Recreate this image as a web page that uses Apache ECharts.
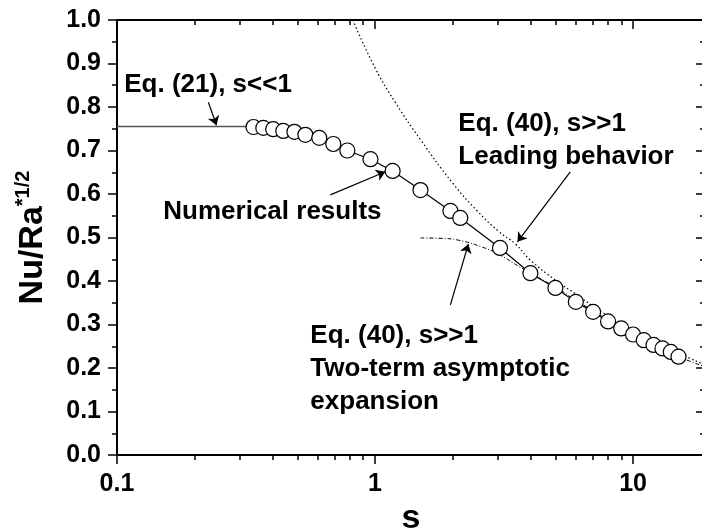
<!DOCTYPE html>
<html>
<head>
    <meta charset="utf-8">
    <title>Nu/Ra vs s</title>
    <script src="https://cdn.jsdelivr.net/npm/echarts@6/dist/echarts.min.js"></script>
</head>
<body style="margin:0">
<div id="main" style="width: 702px;height:530px;"></div>
<script type="text/javascript">

        // numerical results (circles)
        var numS = [0.338, 0.369, 0.403, 0.441, 0.487, 0.537, 0.608, 0.689, 0.781, 0.96, 1.17, 1.5, 1.96, 2.14, 3.05,
                    4, 5, 6, 7, 8, 9, 10, 11, 12, 13, 14, 15];
        var numV = [0.754, 0.752, 0.749, 0.745, 0.743, 0.736, 0.729, 0.715, 0.700, 0.680, 0.653, 0.609, 0.561, 0.545, 0.476,
                    0.418, 0.384, 0.352, 0.329, 0.307, 0.291, 0.277, 0.264, 0.253, 0.245, 0.237, 0.226];

        // Eq. (21), s<<1
        var smallS = [0.1, 0.338];
        var smallV = [0.755, 0.755];

        // Eq. (40) leading behavior
        var leadS = [0.82, 1.0, 1.2, 1.5, 2, 2.5, 3, 3.5, 4, 5, 6, 7, 8, 10, 12, 15, 19];
        var leadV = [1.0, 0.89, 0.81, 0.725, 0.625, 0.56, 0.515, 0.485, 0.448, 0.402, 0.37, 0.342, 0.32, 0.286, 0.261, 0.234, 0.207];

        // Eq. (40) two-term asymptotic expansion
        var twoS = [1.5, 1.8, 2.1, 2.6, 3.0, 3.6, 4.3, 5.2, 6, 7, 8, 9, 10, 12, 15, 19];
        var twoV = [0.499, 0.498, 0.494, 0.478, 0.462, 0.434, 0.408, 0.38, 0.355, 0.332, 0.31, 0.293, 0.278, 0.253, 0.226, 0.203];

        // axis ticks
        var xMajor = [0.1, 1, 10];
        var xMinor = [0.2, 0.3, 0.4, 0.5, 0.6, 0.7, 0.8, 0.9, 2, 3, 4, 5, 6, 7, 8, 9];

        function pairs(xs, ys) {
            var out = [];
            for (var i = 0; i < xs.length; i++) out.push([xs[i], ys[i]]);
            return out;
        }

        var FONT = "'Liberation Sans', Arial, Helvetica, sans-serif";
        var black = '#000';

        function xAx(pos, ticks, len, inside, showLine, label) {
            return {
                type: 'log', logBase: 10, min: 0.1, max: 19, position: pos,
                axisLine: {show: showLine, lineStyle: {color: black, width: 2}},
                axisTick: {show: true, inside: inside, length: len, customValues: ticks,
                           lineStyle: {color: black, width: 1.5}},
                axisLabel: label ? {show: true, customValues: ticks, margin: 17, color: black,
                                    fontSize: 25, fontWeight: 'bold', fontFamily: FONT}
                                 : {show: false},
                splitLine: {show: false}
            };
        }

        var bottomMain = xAx('bottom', xMajor, 9, false, true, true);
        bottomMain.name = 's';
        bottomMain.nameLocation = 'middle';
        bottomMain.nameGap = 46;
        bottomMain.nameTextStyle = {fontSize: 34, fontWeight: 'bold', color: black, fontFamily: FONT};

        function arrow(a, b) {
            return [{coord: a}, {coord: b}];
        }
        function note(c, text) {
            return {coord: c, symbolSize: 0,
                    label: {show: true, position: 'right', distance: 0, formatter: text}};
        }

        var option = {
            animation: false,
            backgroundColor: '#fff',
            grid: {left: 117, right: -3, top: 20, bottom: 75, containLabel: false, outerBoundsMode: 'none'},
            xAxis: [
                bottomMain,
                xAx('bottom', xMinor, 5, false, false, false),
                xAx('top', xMajor, 9, true, true, false),
                xAx('top', xMinor, 5, true, false, false)
            ],
            yAxis: [
                {
                    type: 'value', min: 0, max: 1, interval: 0.1, position: 'left',
                    axisLine: {show: true, lineStyle: {color: black, width: 2}},
                    axisTick: {show: true, length: 9, lineStyle: {color: black, width: 1.5}},
                    minorTick: {show: true, splitNumber: 2, length: 5, lineStyle: {color: black, width: 1.5}},
                    axisLabel: {margin: 16, color: black, fontSize: 25, fontWeight: 'bold', fontFamily: FONT,
                                formatter: function (v) { return v.toFixed(1); }},
                    splitLine: {show: false},
                    name: '{a|Nu/Ra}{b|*1/2}',
                    nameLocation: 'middle',
                    nameGap: 64,
                    nameTextStyle: {
                        color: black, fontFamily: FONT,
                        rich: {
                            a: {fontSize: 34, fontWeight: 'bold', fontFamily: FONT, lineHeight: 40},
                            b: {fontSize: 20, fontWeight: 'bold', fontFamily: FONT, verticalAlign: 'top'}
                        }
                    }
                },
                {
                    type: 'value', min: 0, max: 1, interval: 0.1, position: 'right',
                    axisLine: {show: true, lineStyle: {color: black, width: 2}},
                    axisTick: {show: true, inside: true, length: 9, lineStyle: {color: black, width: 1.5}},
                    minorTick: {show: true, splitNumber: 2, length: 5, lineStyle: {color: black, width: 1.5}},
                    axisLabel: {show: false},
                    splitLine: {show: false}
                }
            ],
            series: [
                {
                    name: 'Eq. (21)', type: 'line', data: pairs(smallS, smallV),
                    showSymbol: false, symbol: 'none',
                    lineStyle: {color: '#555', width: 1.5}
                },
                {
                    name: 'Leading behavior', type: 'line', data: pairs(leadS, leadV),
                    symbol: 'none', smooth: true,
                    lineStyle: {color: black, width: 1.2, type: [1.5, 2.5]}
                },
                {
                    name: 'Two-term', type: 'line', data: pairs(twoS, twoV),
                    symbol: 'none', smooth: true,
                    lineStyle: {color: black, width: 1, type: [4, 2, 1, 2]}
                },
                {
                    name: 'Numerical results', type: 'line', data: pairs(numS, numV), z: 5,
                    symbol: 'circle', symbolSize: 15, showAllSymbol: true,
                    itemStyle: {color: '#fff', borderColor: black, borderWidth: 1.2},
                    lineStyle: {color: black, width: 1.2},
                    markLine: {
                        silent: true, symbol: ['none', 'arrow'], symbolSize: 9,
                        label: {show: false},
                        lineStyle: {color: black, width: 1.2, type: 'solid'},
                        data: [
                            arrow([0.226, 0.811], [0.243, 0.758]),
                            arrow([0.671, 0.598], [1.096, 0.651]),
                            arrow([5.71, 0.651], [3.565, 0.490]),
                            arrow([1.959, 0.345], [2.30, 0.485])
                        ]
                    },
                    markPoint: {
                        silent: true, symbol: 'circle', symbolSize: 0,
                        label: {color: black, fontSize: 26, fontWeight: 'bold', fontFamily: FONT, lineHeight: 33},
                        data: [
                            note([0.1067, 0.851], 'Eq. (21), s<<1'),
                            note([0.1512, 0.559], 'Numerical results'),
                            note([2.103, 0.723], 'Eq. (40), s>>1\nLeading behavior'),
                            note([0.5614, 0.198], 'Eq. (40), s>>1\nTwo-term asymptotic\nexpansion')
                        ]
                    }
                }
            ]
        };

        var myChart = echarts.init(document.getElementById('main'));
        myChart.setOption(option);

</script>
</body>
</html>
